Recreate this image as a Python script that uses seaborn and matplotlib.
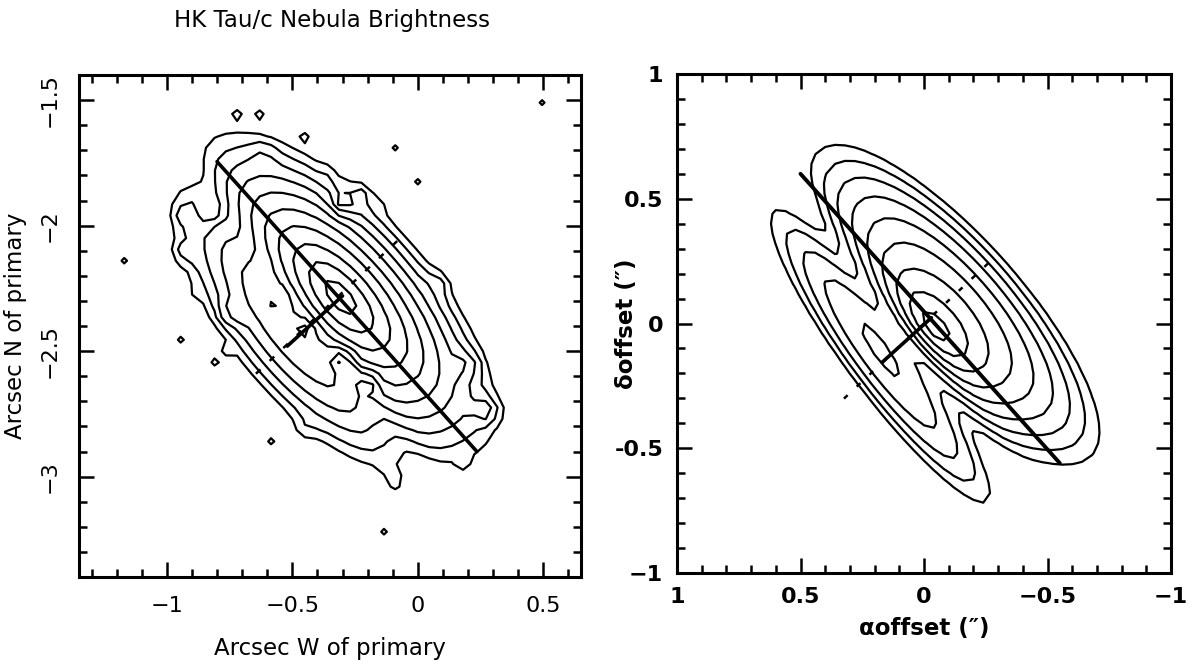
import numpy as np
import pandas as pd
import matplotlib
matplotlib.use("Agg")
import matplotlib.pyplot as plt
from matplotlib.ticker import MultipleLocator
import seaborn as sns

# ---------------- text ----------------
TITLE = "HK Tau/c Nebula Brightness"
L_XLABEL = "Arcsec W of primary"
L_YLABEL = "Arcsec N of primary"
R_XLABEL = "αoffset (″)"
R_YLABEL = "δoffset (″)"

# ---------------- left panel (observed image) ----------------
L_XLIM = (-1.35, 0.65)
L_YLIM = (-3.4, -1.4)
L_XTICKS = [-1, -0.5, 0, 0.5]
L_XTICKLABELS = ["−1", "−0.5", "0", "0.5"]
L_YTICKS = [-3, -2.5, -2, -1.5]
L_YTICKLABELS = ["−3", "−2.5", "−2", "−1.5"]
L_CENTER = (-0.34, -2.26)            # brightness peak
L_UAXIS = (0.665, -0.747)            # along the nebula
L_WAXIS = (-0.747, -0.665)           # across, towards the faint lobe
# bright nebula core: u0, w0, width along, width up-side, width lane-side, amplitude
L_CORE = [0.04, -0.01, 0.25, 0.10, 0.13, 0.85]
# broad lobes: u0, w0, tilt, width along, width across, amplitude
L_LOBE_U = [0.06, 0.03]
L_LOBE_W = [-0.05, 0.26]
L_LOBE_T = [0.0, 0.05]
L_LOBE_SU = [0.38, 0.36]
L_LOBE_SW = [0.16, 0.12]
L_LOBE_A = [0.12, 0.08]
# dark lane: depth, offset, tilt, width
L_LANE = [0.3, 0.15, 0.08, 0.05]
# local irregularities (x, y, relative strength)
L_BUMP_X = [-0.952, -0.945, -0.931, -0.835, -0.615, -0.30, -0.217, -0.107, 0.099, 0.277,
            -0.093, -0.464, -0.684, -0.849, -0.30, -0.46, -0.56, -0.20, -0.75, 0.20]
L_BUMP_Y = [-2.288, -2.108, -1.957, -1.943, -1.708, -1.915, -1.86, -1.888, -2.219, -2.736,
            -3.032, -2.826, -2.715, -2.681, -2.53, -2.42, -2.30, -2.62, -2.35, -2.55]
L_BUMP_A = [0.9, 0.6, 0.5, -0.5, 0.3, -0.5, 0.7, 0.7, 0.5, 0.9,
            0.7, 0.5, -0.5, 0.8, -0.5, -0.45, -0.4, -0.5, 0.5, 0.5]
L_LEVELS = [0.044, 0.06, 0.082, 0.112, 0.153, 0.21, 0.285, 0.39, 0.53, 0.72, 0.95]
L_PIX = 0.045
L_SPECK_X = [0.477, -0.718, -0.62, -0.457, -0.78, -0.08, 0.016, -0.48, -0.38, -0.787,
             -0.183, -1.178, 0.14, -0.938, -0.753, -0.437, 0.16, -0.606, -0.128, -0.80]
L_SPECK_Y = [-1.508, -1.554, -1.557, -1.637, -1.69, -1.68, -1.826, -1.78, -1.78, -1.88,
             -1.99, -2.143, -2.363, -2.474, -2.511, -2.515, -2.93, -2.846, -3.198, -2.55]
L_MAJOR_X = [-0.80, 0.235]
L_MAJOR_Y = [-1.745, -2.90]
L_MINOR_X = [-0.52, -0.30]
L_MINOR_Y = [-2.48, -2.28]
L_DASH_X = [-0.645, -0.07]
L_DASH_Y = [-2.59, -2.05]

# ---------------- right panel (model image) ----------------
R_XLIM = (1, -1)
R_YLIM = (-1, 1)
R_XTICKS = [1, 0.5, 0, -0.5, -1]
R_XTICKLABELS = ["1", "0.5", "0", "−0.5", "−1"]
R_YTICKS = [-1, -0.5, 0, 0.5, 1]
R_YTICKLABELS = ["−1", "-0.5", "0", "0.5", "1"]
R_CENTER = (0.0, 0.0)
R_UAXIS = (-0.671, -0.741)
R_WAXIS = (0.741, -0.671)
R_CORE = [0.04, -0.02, 0.19, 0.085, 0.08, 0.8]
R_LOBE_U = [0.02, 0.0]
R_LOBE_W = [-0.16, 0.22]
R_LOBE_T = [0.0, 0.09]
R_LOBE_SU = [0.43, 0.44]
R_LOBE_SW = [0.13, 0.085]
R_LOBE_A = [0.20, 0.13]
R_LANE = [0.5, 0.10, 0.09, 0.05]
R_LEVELS = [0.04, 0.057, 0.08, 0.113, 0.16, 0.226, 0.32, 0.45, 0.64, 0.9]
R_PIX = 0.04
R_MAJOR_X = [0.50, -0.55]
R_MAJOR_Y = [0.60, -0.56]
R_MINOR_X = [0.17, -0.03]
R_MINOR_Y = [-0.156, 0.023]
R_DASH_X = [0.324, -0.293]
R_DASH_Y = [-0.301, 0.272]


def nebula(xlim, ylim, pix, center, uax, wax, core, lu, lw, lt, lsu, lsw, la, lane,
           bx=(), by=(), ba=(), sx=(), sy=()):
    xs = np.arange(min(xlim), max(xlim) + pix / 2, pix)
    ys = np.arange(min(ylim), max(ylim) + pix / 2, pix)
    X, Y = np.meshgrid(xs, ys)
    DX, DY = X - center[0], Y - center[1]
    U = DX * uax[0] + DY * uax[1]
    W = DX * wax[0] + DY * wax[1]
    u0, w0, su, sw_up, sw_dn, a = core
    sw = np.where(W < w0, sw_up, sw_dn)
    Z = a * np.exp(-np.sqrt(((U - u0) / su) ** 2 + ((W - w0) / sw) ** 2))
    for u1, w1, t1, s1, s2, a1 in zip(lu, lw, lt, lsu, lsw, la):
        Z += a1 * np.exp(-0.5 * (((U - u1) / s1) ** 2 + ((W - w1 - t1 * U) / s2) ** 2))
    depth, off, tilt, width = lane
    Z *= 1 - depth * np.exp(-0.5 * ((W - (off + tilt * U)) / width) ** 2)
    mod = np.ones_like(Z)
    for px, py, pa in zip(bx, by, ba):
        mod += pa * np.exp(-0.5 * ((X - px) ** 2 + (Y - py) ** 2) / 0.035 ** 2)
    Z *= np.clip(mod, 0.2, None)
    for px, py in zip(sx, sy):
        i = np.argmin(np.abs(ys - py))
        j = np.argmin(np.abs(xs - px))
        Z[i, j] = max(Z[i, j], 0.056)
    return xs, ys, Z


sns.set_theme(style="ticks")
plt.rcParams["font.family"] = ["DejaVu Sans"]
for k in ("text.color", "axes.labelcolor", "xtick.color", "ytick.color", "axes.edgecolor"):
    plt.rcParams[k] = "black"

fig = plt.figure(figsize=(11.98, 6.67), dpi=100)
axL = fig.add_axes([79 / 1198, 1 - 577 / 667, 502 / 1198, 502 / 667])
axR = fig.add_axes([677 / 1198, 1 - 573 / 667, 494 / 1198, 499 / 667])

# ---- left
xs, ys, Z = nebula(L_XLIM, L_YLIM, L_PIX, L_CENTER, L_UAXIS, L_WAXIS, L_CORE,
                   L_LOBE_U, L_LOBE_W, L_LOBE_T, L_LOBE_SU, L_LOBE_SW, L_LOBE_A, L_LANE,
                   L_BUMP_X, L_BUMP_Y, L_BUMP_A, L_SPECK_X, L_SPECK_Y)
axL.contour(xs, ys, Z, levels=L_LEVELS, colors="black", linewidths=1.6)
sns.lineplot(x=L_MAJOR_X, y=L_MAJOR_Y, ax=axL, color="black", lw=2.6, sort=False)
sns.lineplot(x=L_MINOR_X, y=L_MINOR_Y, ax=axL, color="black", lw=2.6, sort=False)
dl = sns.lineplot(x=L_DASH_X, y=L_DASH_Y, ax=axL, color="black", lw=1.8, sort=False)
dl.lines[-1].set_dashes([2.5, 5])

axL.set_xlim(*L_XLIM)
axL.set_ylim(*L_YLIM)
axL.set_xticks(L_XTICKS)
axL.set_xticklabels(L_XTICKLABELS, fontsize=16)
axL.set_yticks(L_YTICKS)
axL.set_yticklabels(L_YTICKLABELS, fontsize=16, rotation=90, va="center")
axL.xaxis.set_minor_locator(MultipleLocator(0.1))
axL.yaxis.set_minor_locator(MultipleLocator(0.1))
axL.set_xlabel(L_XLABEL, fontsize=16.5)
axL.xaxis.set_label_coords(0.5, (577 - 648) / 502)
axL.xaxis.label.set_va("center")
axL.set_ylabel(L_YLABEL, fontsize=16.5)
axL.yaxis.set_label_coords((16 - 79) / 502, 0.5)
axL.yaxis.label.set_va("center")

# ---- right
xs, ys, Z = nebula(R_XLIM, R_YLIM, R_PIX, R_CENTER, R_UAXIS, R_WAXIS, R_CORE,
                   R_LOBE_U, R_LOBE_W, R_LOBE_T, R_LOBE_SU, R_LOBE_SW, R_LOBE_A, R_LANE)
axR.contour(xs, ys, Z, levels=R_LEVELS, colors="black", linewidths=1.6)
sns.lineplot(x=R_MAJOR_X, y=R_MAJOR_Y, ax=axR, color="black", lw=2.8, sort=False)
sns.lineplot(x=R_MINOR_X, y=R_MINOR_Y, ax=axR, color="black", lw=2.6, sort=False)
dr = sns.lineplot(x=R_DASH_X, y=R_DASH_Y, ax=axR, color="black", lw=1.8, sort=False)
dr.lines[-1].set_dashes([2, 5])

axR.set_xlim(*R_XLIM)
axR.set_ylim(*R_YLIM)
axR.set_xticks(R_XTICKS)
axR.set_xticklabels(R_XTICKLABELS, fontsize=16, fontweight="bold")
axR.set_yticks(R_YTICKS)
axR.set_yticklabels(R_YTICKLABELS, fontsize=16, fontweight="bold")
axR.xaxis.set_minor_locator(MultipleLocator(0.1))
axR.yaxis.set_minor_locator(MultipleLocator(0.1))
axR.set_xlabel(R_XLABEL, fontsize=16.5, fontweight="bold")
axR.xaxis.set_label_coords(0.5, (573 - 628) / 499)
axR.xaxis.label.set_va("center")
axR.set_ylabel(R_YLABEL, fontsize=16.5, fontweight="bold")
axR.yaxis.set_label_coords((626 - 677) / 494, 0.5)
axR.yaxis.label.set_va("center")

for ax in (axL, axR):
    for s in ax.spines.values():
        s.set_linewidth(2.2)
        s.set_color("black")
    ax.tick_params(which="both", direction="in", top=True, right=True, width=1.8, colors="black")
    ax.tick_params(which="major", length=11)
    ax.tick_params(which="minor", length=6)
axL.tick_params(which="major", pad=14)
axR.tick_params(which="major", pad=10)

fig.text(332 / 1198, 1 - 20 / 667, TITLE, ha="center", va="center", fontsize=16.5)

fig.savefig("out.png", dpi=100, facecolor="white")
